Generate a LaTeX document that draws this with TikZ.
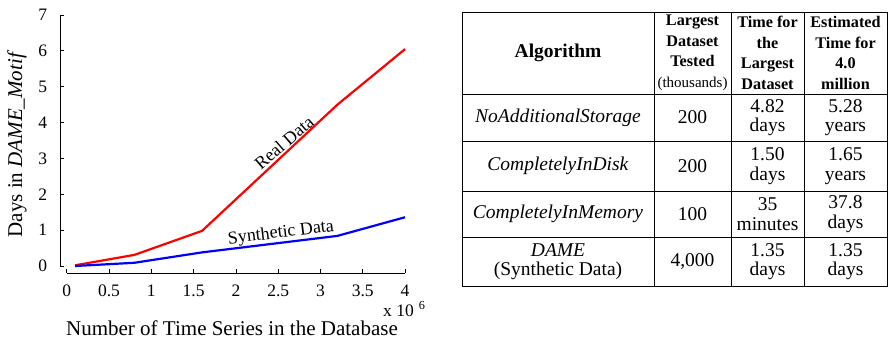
\documentclass[tikz,border=0pt]{standalone}
\usepackage{fontspec}
\setmainfont{Liberation Serif}
\begin{document}
\begin{tikzpicture}[x=1pt,y=-1pt,
  tick/.style={font=\fontsize{17.5}{18}\selectfont},
  lab/.style={font=\fontsize{21}{22}\selectfont},
  curvelab/.style={font=\fontsize{18}{18}\selectfont},
  curve/.style={line width=2.2pt, line join=round},
  axisline/.style={line width=0.8pt},
  hdbig/.style={font=\fontsize{19.5}{20}\selectfont\bfseries},
  hd/.style={font=\fontsize{16.2}{20.5}\selectfont\bfseries, align=center},
  cell/.style={font=\fontsize{19.5}{19.5}\selectfont, align=center},
  gridline/.style={line width=1pt}]
\useasboundingbox (0,0) rectangle (889,341);
% ---------- plot ----------
\begin{scope}[shift={(66.7,266)}, x=84.6pt, y=35.86pt]
  \draw[axisline] (-0.079,7) -- (-0.079,-0.03);
  \foreach \v in {0,...,7}{
    \draw[axisline] (-0.079,\v) -- ++(4pt,0);
    \node[tick, anchor=east] (yt\v) at (-0.19,\v) {\v};
  }
  \draw[axisline] (0,-0.195) -- (4,-0.195);
  \foreach \v/\l in {0/0,0.5/0.5,1/1,1.5/1.5,2/2,2.5/2.5,3/3,3.5/3.5,4/4}{
    \draw[axisline] (\v,-0.195) -- ++(0,4.5pt);
    \node[tick] (xt\l) at (\v,-0.68) {\l};
  }
  \draw[curve, red] plot coordinates {(0.1,0.02) (0.8,0.31) (1.6,0.98) (3.2,4.5) (4,6.05)};
  \draw[curve, blue] plot coordinates {(0.1,0) (0.8,0.09) (1.6,0.38) (3.2,0.84) (4,1.36)};
  \node[curvelab, rotate=41] (real) at (2.569,3.438) {Real Data};
  \node[curvelab, rotate=7] (synth) at (2.533,0.912) {Synthetic Data};
\end{scope}
\node[tick, anchor=base west, inner sep=0pt] (mult) at (383,316) {x 10\hspace{5pt}\textsuperscript{6}};
\node[lab] (xlab) at (232,328) {Number of Time Series in the Database};
\node[lab, rotate=90] (ylab) at (17,144) {Days in \textit{DAME\_Motif}};
% ---------- table ----------
\draw[gridline] (462,12) rectangle (887,286.5);
\foreach \yy in {94,141,191,237} \draw[gridline] (462,\yy) -- (887,\yy);
\foreach \xx in {654,731,804} \draw[gridline] (\xx,12) -- (\xx,286.5);
\node[hdbig] (h1) at (558,53) {Algorithm};
\node[hd] (h2) at (692.5,53) {Largest\\Dataset\\Tested\\{\fontsize{15}{20.5}\selectfont\mdseries (thousands)}};
\node[hd] (h3) at (767.5,53) {Time for\\the\\Largest\\Dataset};
\node[hd] (h4) at (845.5,53) {Estimated\\Time for\\4.0\\million};
\node[cell] (r1c1) at (558,117.5) {\textit{NoAdditionalStorage}};
\node[cell] (r1c2) at (692.5,117.5) {200};
\node[cell] (r1c3) at (767.5,117.5) {4.82\\days};
\node[cell] (r1c4) at (845.5,117.5) {5.28\\years};
\node[cell] (r2c1) at (558,166) {\textit{CompletelyInDisk}};
\node[cell] (r2c2) at (692.5,166) {200};
\node[cell] (r2c3) at (767.5,166) {1.50\\days};
\node[cell] (r2c4) at (845.5,166) {1.65\\years};
\node[cell] (r3c1) at (558,214) {\textit{CompletelyInMemory}};
\node[cell] (r3c2) at (692.5,214) {100};
\node[cell] (r3c3) at (767.5,214) {35\\minutes};
\node[cell] (r3c4) at (845.5,214) {37.8\\days};
\node[cell] (r4c1) at (558,261.75) {\textit{DAME}\\(Synthetic Data)};
\node[cell] (r4c2) at (692.5,261.75) {4,000};
\node[cell] (r4c3) at (767.5,261.75) {1.35\\days};
\node[cell] (r4c4) at (845.5,261.75) {1.35\\days};
\end{tikzpicture}
\end{document}
